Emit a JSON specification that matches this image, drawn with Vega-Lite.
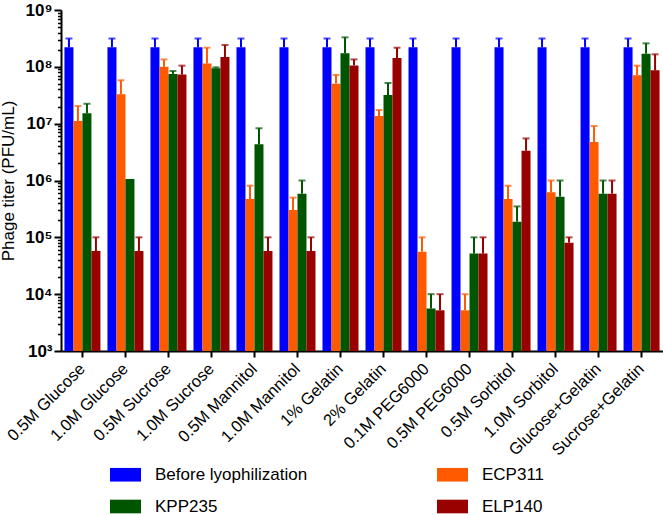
{
  "$schema": "https://vega.github.io/schema/vega-lite/v6.json",
  "autosize": {"type": "none"},
  "width": 602,
  "height": 341,
  "padding": {"left": 61, "top": 10, "right": 0, "bottom": 164},
  "config": {
    "font": "Liberation Sans",
    "view": {"stroke": null},
    "axis": {"grid": false}
  },
  "data": {
    "values": [
      {"cond": "0.5M Glucose", "series": "Before lyophilization", "value": 2.2e8, "upper": 3.15e8},
      {"cond": "0.5M Glucose", "series": "ECP311", "value": 1.11e7, "upper": 2.05e7},
      {"cond": "0.5M Glucose", "series": "KPP235", "value": 1.52e7, "upper": 2.24e7},
      {"cond": "0.5M Glucose", "series": "ELP140", "value": 5.75e4, "upper": 1e5},
      {"cond": "1.0M Glucose", "series": "Before lyophilization", "value": 2.2e8, "upper": 3.15e8},
      {"cond": "1.0M Glucose", "series": "ECP311", "value": 3.28e7, "upper": 5.8e7},
      {"cond": "1.0M Glucose", "series": "KPP235", "value": 1.06e6, "upper": null},
      {"cond": "1.0M Glucose", "series": "ELP140", "value": 5.75e4, "upper": 1e5},
      {"cond": "0.5M Sucrose", "series": "Before lyophilization", "value": 2.2e8, "upper": 3.15e8},
      {"cond": "0.5M Sucrose", "series": "ECP311", "value": 1.0e8, "upper": 1.35e8},
      {"cond": "0.5M Sucrose", "series": "KPP235", "value": 7.5e7, "upper": 8.45e7},
      {"cond": "0.5M Sucrose", "series": "ELP140", "value": 7.3e7, "upper": 1.05e8},
      {"cond": "1.0M Sucrose", "series": "Before lyophilization", "value": 2.2e8, "upper": 3.15e8},
      {"cond": "1.0M Sucrose", "series": "ECP311", "value": 1.14e8, "upper": 2.17e8},
      {"cond": "1.0M Sucrose", "series": "KPP235", "value": 9.4e7, "upper": 9.8e7},
      {"cond": "1.0M Sucrose", "series": "ELP140", "value": 1.49e8, "upper": 2.42e8},
      {"cond": "0.5M Mannitol", "series": "Before lyophilization", "value": 2.2e8, "upper": 3.15e8},
      {"cond": "0.5M Mannitol", "series": "ECP311", "value": 4.72e5, "upper": 8.1e5},
      {"cond": "0.5M Mannitol", "series": "KPP235", "value": 4.33e6, "upper": 8.3e6},
      {"cond": "0.5M Mannitol", "series": "ELP140", "value": 5.75e4, "upper": 1e5},
      {"cond": "1.0M Mannitol", "series": "Before lyophilization", "value": 2.2e8, "upper": 3.15e8},
      {"cond": "1.0M Mannitol", "series": "ECP311", "value": 3.03e5, "upper": 5e5},
      {"cond": "1.0M Mannitol", "series": "KPP235", "value": 5.86e5, "upper": 1e6},
      {"cond": "1.0M Mannitol", "series": "ELP140", "value": 5.75e4, "upper": 1e5},
      {"cond": "1% Gelatin", "series": "Before lyophilization", "value": 2.2e8, "upper": 3.15e8},
      {"cond": "1% Gelatin", "series": "ECP311", "value": 5.06e7, "upper": 7.2e7},
      {"cond": "1% Gelatin", "series": "KPP235", "value": 1.73e8, "upper": 3.3e8},
      {"cond": "1% Gelatin", "series": "ELP140", "value": 1.06e8, "upper": 1.35e8},
      {"cond": "2% Gelatin", "series": "Before lyophilization", "value": 2.2e8, "upper": 3.15e8},
      {"cond": "2% Gelatin", "series": "ECP311", "value": 1.36e7, "upper": 1.74e7},
      {"cond": "2% Gelatin", "series": "KPP235", "value": 3.19e7, "upper": 5.2e7},
      {"cond": "2% Gelatin", "series": "ELP140", "value": 1.43e8, "upper": 2.17e8},
      {"cond": "0.1M PEG6000", "series": "Before lyophilization", "value": 2.2e8, "upper": 3.15e8},
      {"cond": "0.1M PEG6000", "series": "ECP311", "value": 5.6e4, "upper": 1e5},
      {"cond": "0.1M PEG6000", "series": "KPP235", "value": 5.6e3, "upper": 1e4},
      {"cond": "0.1M PEG6000", "series": "ELP140", "value": 5.2e3, "upper": 1e4},
      {"cond": "0.5M PEG6000", "series": "Before lyophilization", "value": 2.2e8, "upper": 3.15e8},
      {"cond": "0.5M PEG6000", "series": "ECP311", "value": 5.2e3, "upper": 1e4},
      {"cond": "0.5M PEG6000", "series": "KPP235", "value": 5.2e4, "upper": 1e5},
      {"cond": "0.5M PEG6000", "series": "ELP140", "value": 5.2e4, "upper": 1e5},
      {"cond": "0.5M Sorbitol", "series": "Before lyophilization", "value": 2.2e8, "upper": 3.15e8},
      {"cond": "0.5M Sorbitol", "series": "ECP311", "value": 4.72e5, "upper": 8.1e5},
      {"cond": "0.5M Sorbitol", "series": "KPP235", "value": 1.88e5, "upper": 3.5e5},
      {"cond": "0.5M Sorbitol", "series": "ELP140", "value": 3.34e6, "upper": 5.5e6},
      {"cond": "1.0M Sorbitol", "series": "Before lyophilization", "value": 2.2e8, "upper": 3.15e8},
      {"cond": "1.0M Sorbitol", "series": "ECP311", "value": 6.2e5, "upper": 1e6},
      {"cond": "1.0M Sorbitol", "series": "KPP235", "value": 5.2e5, "upper": 1e6},
      {"cond": "1.0M Sorbitol", "series": "ELP140", "value": 8.05e4, "upper": 1e5},
      {"cond": "Glucose+Gelatin", "series": "Before lyophilization", "value": 2.2e8, "upper": 3.15e8},
      {"cond": "Glucose+Gelatin", "series": "ECP311", "value": 4.75e6, "upper": 9.1e6},
      {"cond": "Glucose+Gelatin", "series": "KPP235", "value": 5.86e5, "upper": 1e6},
      {"cond": "Glucose+Gelatin", "series": "ELP140", "value": 5.86e5, "upper": 1e6},
      {"cond": "Sucrose+Gelatin", "series": "Before lyophilization", "value": 2.2e8, "upper": 3.15e8},
      {"cond": "Sucrose+Gelatin", "series": "ECP311", "value": 7.1e7, "upper": 1.05e8},
      {"cond": "Sucrose+Gelatin", "series": "KPP235", "value": 1.7e8, "upper": 2.59e8},
      {"cond": "Sucrose+Gelatin", "series": "ELP140", "value": 8.7e7, "upper": 1.66e8}
    ]
  },
  "encoding": {
    "x": {
      "field": "cond",
      "type": "nominal",
      "sort": null,
      "scale": {"paddingInner": 0.163, "paddingOuter": 0.08},
      "axis": {
        "title": null,
        "labelAngle": -45,
        "labelAlign": "right",
        "labelBaseline": "middle",
        "labelFontSize": 16.5,
        "labelColor": "#000000",
        "labelPadding": 9,
        "domainColor": "#000000",
        "domainWidth": 2,
        "tickColor": "#000000",
        "tickWidth": 2,
        "tickSize": 6,
        "labelLimit": 200
      }
    },
    "xOffset": {
      "field": "series",
      "type": "nominal",
      "sort": ["Before lyophilization", "ECP311", "KPP235", "ELP140"],
      "scale": {"paddingInner": 0, "paddingOuter": 0}
    },
    "color": {
      "field": "series",
      "type": "nominal",
      "scale": {
        "domain": ["Before lyophilization", "ECP311", "KPP235", "ELP140"],
        "range": ["#0000FF", "#FF5A00", "#005500", "#990000"]
      },
      "legend": {
        "title": null,
        "orient": "none",
        "direction": "horizontal",
        "legendX": 49,
        "legendY": 449,
        "columns": 2,
        "columnPadding": 129,
        "rowPadding": 8,
        "padding": 0,
        "symbolType": "M-1,-0.44H1V0.44H-1Z",
        "symbolSize": 961,
        "symbolStrokeWidth": 0,
        "symbolOpacity": 1,
        "labelFontSize": 17,
        "labelColor": "#000000",
        "labelOffset": 14,
        "labelLimit": 300
      }
    }
  },
  "layer": [
    {
      "mark": {"type": "bar", "opacity": 1},
      "encoding": {
        "y": {
          "field": "value",
          "type": "quantitative",
          "scale": {"type": "log", "domain": [1000, 1000000000], "nice": false},
          "axis": {
            "orient": "left",
            "values": [1000, 10000, 100000, 1000000, 10000000, 100000000, 1000000000],
            "labelExpr": "'10' + ['⁰','¹','²','³','⁴','⁵','⁶','⁷','⁸','⁹'][round(log(datum.value)/LN10)]",
            "labelFontSize": 17,
            "labelFontWeight": "bold",
            "labelColor": "#000000",
            "labelPadding": 2,
            "tickSize": 7,
            "tickWidth": 2,
            "tickColor": "#000000",
            "domainColor": "#000000",
            "domainWidth": 2,
            "title": "Phage titer (PFU/mL)",
            "titleFontSize": 17,
            "titleFontWeight": "normal",
            "titleColor": "#000000",
            "titleX": -53,
            "titleY": 170.5,
            "titleAngle": -90,
            "titleAlign": "center",
            "titleBaseline": "middle"
          }
        },
        "y2": {"datum": 1000}
      }
    },
    {
      "mark": {"type": "rule", "strokeWidth": 2},
      "encoding": {
        "y": {
          "field": "value",
          "type": "quantitative",
          "axis": {
            "orient": "left",
            "values": [2000, 3000, 4000, 5000, 6000, 7000, 8000, 9000, 20000, 30000, 40000, 50000, 60000, 70000, 80000, 90000, 200000, 300000, 400000, 500000, 600000, 700000, 800000, 900000, 2000000, 3000000, 4000000, 5000000, 6000000, 7000000, 8000000, 9000000, 20000000, 30000000, 40000000, 50000000, 60000000, 70000000, 80000000, 90000000, 200000000, 300000000, 400000000, 500000000, 600000000, 700000000, 800000000, 900000000],
            "labels": false,
            "domain": false,
            "tickSize": 3.5,
            "tickWidth": 1.5,
            "tickColor": "#000000",
            "title": null
          }
        },
        "y2": {"field": "upper"}
      }
    },
    {
      "mark": {"type": "tick", "thickness": 2, "size": 7, "orient": "horizontal"},
      "encoding": {
        "y": {"field": "upper", "type": "quantitative", "axis": null}
      }
    }
  ],
  "resolve": {"axis": {"y": "independent"}}
}
